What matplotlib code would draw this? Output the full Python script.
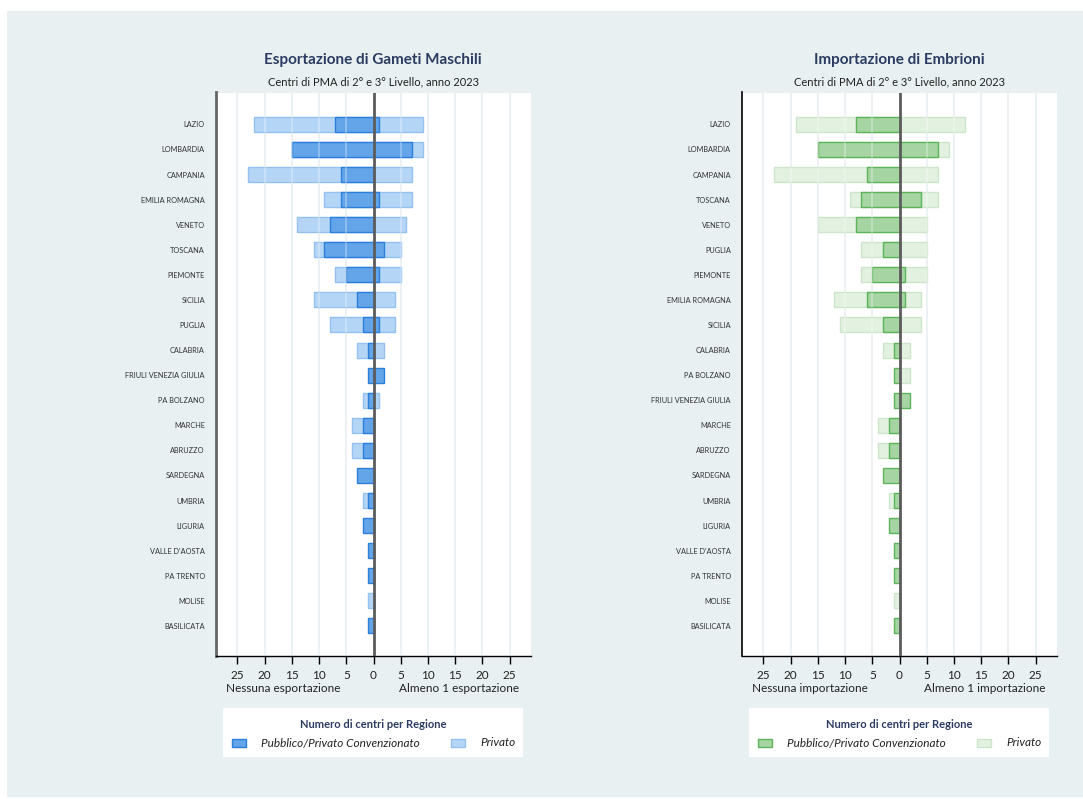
import matplotlib
matplotlib.use('Agg')
import matplotlib.pyplot as plt
from matplotlib.patches import Rectangle

plt.rcParams['font.family'] = ['Lato', 'DejaVu Sans']

# --- data -------------------------------------------------------------
regions_exp = ['LAZIO', 'LOMBARDIA', 'CAMPANIA', 'EMILIA ROMAGNA', 'VENETO', 'TOSCANA',
               'PIEMONTE', 'SICILIA', 'PUGLIA', 'CALABRIA', 'FRIULI VENEZIA GIULIA',
               'PA BOLZANO', 'MARCHE', 'ABRUZZO', 'SARDEGNA', 'UMBRIA', 'LIGURIA',
               "VALLE D'AOSTA", 'PA TRENTO', 'MOLISE', 'BASILICATA']
exp_pub_no = [7, 15, 6, 6, 8, 9, 5, 3, 2, 1, 1, 1, 2, 2, 3, 1, 2, 1, 1, 0, 1]
exp_pub_yes = [1, 7, 0, 1, 0, 2, 1, 0, 1, 0, 2, 0, 0, 0, 0, 0, 0, 0, 0, 0, 0]
exp_priv_no = [22, 15, 23, 9, 14, 11, 7, 11, 8, 3, 0, 2, 4, 4, 0, 2, 0, 0, 0, 1, 0]
exp_priv_yes = [9, 9, 7, 7, 6, 5, 5, 4, 4, 2, 0, 1, 0, 0, 0, 0, 0, 0, 0, 0, 0]

regions_imp = ['LAZIO', 'LOMBARDIA', 'CAMPANIA', 'TOSCANA', 'VENETO', 'PUGLIA',
               'PIEMONTE', 'EMILIA ROMAGNA', 'SICILIA', 'CALABRIA', 'PA BOLZANO',
               'FRIULI VENEZIA GIULIA', 'MARCHE', 'ABRUZZO', 'SARDEGNA', 'UMBRIA',
               'LIGURIA', "VALLE D'AOSTA", 'PA TRENTO', 'MOLISE', 'BASILICATA']
imp_pub_no = [8, 15, 6, 7, 8, 3, 5, 6, 3, 1, 1, 1, 2, 2, 3, 1, 2, 1, 1, 0, 1]
imp_pub_yes = [0, 7, 0, 4, 0, 0, 1, 1, 0, 0, 0, 2, 0, 0, 0, 0, 0, 0, 0, 0, 0]
imp_priv_no = [19, 15, 23, 9, 15, 7, 7, 12, 11, 3, 0, 0, 4, 4, 0, 2, 0, 0, 0, 1, 0]
imp_priv_yes = [12, 9, 7, 7, 5, 5, 5, 4, 4, 2, 2, 0, 0, 0, 0, 0, 0, 0, 0, 0, 0]

ticks = [-25, -20, -15, -10, -5, 0, 5, 10, 15, 20, 25]

# --- layout helpers ---------------------------------------------------
W, H = 1083, 799
def fx(px): return px / W
def fy(py): return 1 - py / H

NAVY = '#2b3b61'
BG = '#e8f0f2'

fig = plt.figure(figsize=(W / 100, H / 100), dpi=100, facecolor='white')
fig.add_artist(Rectangle((fx(7), fy(797)), fx(1083) - fx(7), fy(11) - fy(797),
                         transform=fig.transFigure, fc=BG, ec='none', zorder=0))


def panel(x0, regions, pub_no, pub_yes, priv_no, priv_yes, cols, title, lab_no, lab_yes,
          spine_col, spine_w):
    pub_c, pub_e, priv_c, priv_e = cols
    ax = fig.add_axes([fx(x0), fy(656), 315 / W, (656 - 92.5) / H])
    ax.set_facecolor('white')
    y = list(range(len(regions)))
    h = 0.6
    ax.barh(y, [-v for v in priv_no], height=h, color=priv_c, edgecolor=priv_e, lw=1, zorder=2)
    ax.barh(y, priv_yes, height=h, color=priv_c, edgecolor=priv_e, lw=1, zorder=2)
    ax.barh(y, [-v for v in pub_no], height=h, color=pub_c, edgecolor=pub_e, lw=1, zorder=3)
    ax.barh(y, pub_yes, height=h, color=pub_c, edgecolor=pub_e, lw=1, zorder=3)
    for g in ticks:
        if g == 0:
            continue
        ax.axvline(g, color='#e3ecf0', lw=1.3, zorder=1)
        ax.axvline(g, color='white', alpha=0.3, lw=1.3, zorder=4)
    ax.axvline(0, color='#5c5c5c', lw=2, zorder=5)

    ax.set_xlim(-28.9, 28.9)
    ax.set_ylim(len(regions) - 1 + 1.2, -1.27)
    ax.set_yticks(y)
    ax.set_yticklabels(regions, fontsize=5.3, color='#333333')
    ax.tick_params(axis='y', length=0, pad=8)
    ax.set_xticks(ticks)
    ax.set_xticklabels([str(abs(t)) for t in ticks], fontsize=8.5, color='#222222')
    ax.tick_params(axis='x', length=6, width=1, pad=4)
    for s in ['top', 'right']:
        ax.spines[s].set_visible(False)
    ax.spines['left'].set_color(spine_col)
    ax.spines['left'].set_linewidth(spine_w)
    ax.spines['bottom'].set_color('black')
    ax.spines['bottom'].set_linewidth(1)

    xc = x0 + 157
    fig.text(fx(xc), fy(60), title, ha='center', va='center', fontsize=11,
             fontweight='bold', color=NAVY)
    fig.text(fx(xc), fy(82), 'Centri di PMA di 2° e 3° Livello, anno 2023', ha='center',
             va='center', fontsize=8, color='#222222')
    fig.text(fx(x0 + 10), fy(689), lab_no, ha='left', va='center', fontsize=8.5, color='#222222')
    fig.text(fx(x0 + 303), fy(689), lab_yes, ha='right', va='center', fontsize=8.5, color='#222222')

    # legend box
    lx = x0 + 7
    fig.add_artist(Rectangle((fx(lx), fy(757)), 300 / W, 49 / H,
                             transform=fig.transFigure, fc='white', ec='none', zorder=1))
    fig.text(fx(lx + 150), fy(724), 'Numero di centri per Regione', ha='center', va='center',
             fontsize=8, fontweight='bold', color=NAVY)
    fig.add_artist(Rectangle((fx(lx + 9), fy(747)), 14 / W, 8 / H, transform=fig.transFigure,
                             fc=pub_c, ec=pub_e, lw=1, zorder=2))
    fig.text(fx(lx + 38), fy(743), 'Pubblico/Privato Convenzionato', ha='left', va='center',
             fontsize=8.5, style='italic', color='#222222')
    fig.add_artist(Rectangle((fx(lx + 228), fy(747)), 14 / W, 8 / H, transform=fig.transFigure,
                             fc=priv_c, ec=priv_e, lw=1, zorder=2))
    fig.text(fx(lx + 257), fy(743), 'Privato', ha='left', va='center',
             fontsize=8.5, style='italic', color='#222222')
    return ax


panel(216, regions_exp, exp_pub_no, exp_pub_yes, exp_priv_no, exp_priv_yes,
      ('#64a5ea', '#2b7fd9', '#b5d5f6', '#93c1f0'),
      'Esportazione di Gameti Maschili', 'Nessuna esportazione', 'Almeno 1 esportazione',
      '#666666', 2)
panel(742, regions_imp, imp_pub_no, imp_pub_yes, imp_priv_no, imp_priv_yes,
      ('#a6d5a3', '#5cb359', '#e3f1e1', '#cde6cb'),
      'Importazione di Embrioni', 'Nessuna importazione', 'Almeno 1 importazione',
      'black', 1.2)

fig.savefig('out.png', dpi=100, facecolor='white')
